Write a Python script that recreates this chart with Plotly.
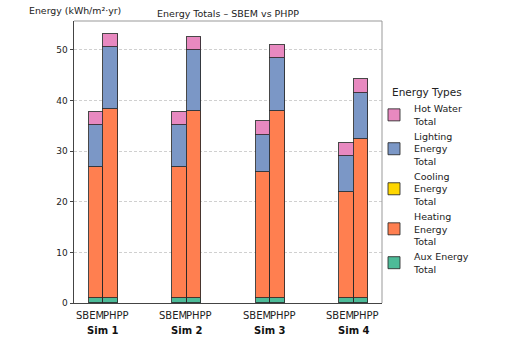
import plotly.graph_objects as go

sims = ["Sim 1", "Sim 2", "Sim 3", "Sim 4"]
methods = ["SBEM", "PHPP"]
energy_types = ["Aux Energy Total", "Heating Energy Total", "Cooling Energy Total",
                "Lighting Energy Total", "Hot Water Total"]
legend_labels = ["Aux Energy<br>Total", "Heating<br>Energy<br>Total", "Cooling<br>Energy<br>Total",
                 "Lighting<br>Energy<br>Total", "Hot Water<br>Total"]
colors = ["#4dbb98", "#ff7f50", "#ffd700", "#7b97c6", "#e889c0"]

# values per energy type: [Sim1, Sim2, Sim3, Sim4]
sbem_aux = [1.0, 1.0, 1.0, 1.0]
sbem_heating = [25.8, 25.8, 24.8, 21.0]
sbem_cooling = [0.0, 0.0, 0.0, 0.0]
sbem_lighting = [8.3, 8.3, 7.4, 7.0]
sbem_hotwater = [2.6, 2.6, 2.7, 2.6]

phpp_aux = [1.0, 1.0, 1.0, 1.0]
phpp_heating = [37.3, 36.9, 36.9, 31.3]
phpp_cooling = [0.0, 0.0, 0.0, 0.0]
phpp_lighting = [12.2, 12.1, 10.4, 9.1]
phpp_hotwater = [2.6, 2.6, 2.6, 2.8]

sbem = [sbem_aux, sbem_heating, sbem_cooling, sbem_lighting, sbem_hotwater]
phpp = [phpp_aux, phpp_heating, phpp_cooling, phpp_lighting, phpp_hotwater]

bar_w = 0.174
group_x = list(range(len(sims)))
sbem_x = [g - bar_w / 2 for g in group_x]
phpp_x = [g + bar_w / 2 for g in group_x]

fig = go.Figure()
edge = dict(color="rgba(40,40,40,0.85)", width=1)
for i, et in enumerate(energy_types):
    fig.add_trace(go.Bar(x=sbem_x, y=sbem[i], width=bar_w, name=legend_labels[i],
                         marker=dict(color=colors[i], line=edge), legendgroup=et,
                         showlegend=True))
    fig.add_trace(go.Bar(x=phpp_x, y=phpp[i], width=bar_w, name=legend_labels[i],
                         marker=dict(color=colors[i], line=edge), legendgroup=et,
                         showlegend=False))

font_family = "DejaVu Sans"
annotations = []
for g, s in zip(group_x, sims):
    annotations.append(dict(x=g, y=-0.046, xref="x", yref="paper", text="SBEM", showarrow=False,
                            xanchor="right", yanchor="middle", xshift=1.5, borderpad=0,
                            font=dict(size=10, color="#222")))
    annotations.append(dict(x=g, y=-0.046, xref="x", yref="paper", text="PHPP", showarrow=False,
                            xanchor="left", yanchor="middle", xshift=-1.5, borderpad=0,
                            font=dict(size=10, color="#222")))
    annotations.append(dict(x=g, y=-0.096, xref="x", yref="paper", text="<b>" + s + "</b>",
                            showarrow=False, xanchor="center", yanchor="middle",
                            font=dict(size=10, color="#111")))
annotations.append(dict(x=(27 - 74) / 308, y=1.039, xref="paper", yref="paper",
                        text="Energy (kWh/m²·yr)", showarrow=False, xanchor="left",
                        yanchor="middle", font=dict(size=9.4, color="#222")))
annotations.append(dict(x=(390 - 74) / 308, y=(303 - 92) / 282, xref="paper", yref="paper",
                        text="Energy Types", showarrow=False, xanchor="left",
                        yanchor="middle", font=dict(size=10.5, color="#222")))

fig.update_layout(
    width=508, height=340,
    margin=dict(l=74, r=126, t=21, b=37),
    barmode="stack",
    bargap=0,
    plot_bgcolor="white", paper_bgcolor="white",
    font=dict(family=font_family, size=10, color="#222"),
    title=dict(text="Energy Totals – SBEM vs PHPP", x=0.5, xref="paper", xanchor="center",
               y=1 - 14 / 340, yref="container", yanchor="middle",
               font=dict(size=9.5, color="#222")),
    xaxis=dict(range=[-0.35, 3.34], showticklabels=False, ticks="", showgrid=False,
               zeroline=False, showline=True, linecolor="#444", linewidth=1, mirror=False),
    yaxis=dict(range=[0, 55.7], tickvals=[0, 10, 20, 30, 40, 50], ticks="outside", ticklen=3.5,
               tickcolor="#444", showgrid=True, gridcolor="#d0d0d0", griddash="3px,2px",
               gridwidth=0.8, zeroline=False, showline=True, linecolor="#444", linewidth=1,
               tickfont=dict(size=9, color="#222")),
    legend=dict(x=(374 - 74) / 308, y=(303 - 96) / 282, xanchor="left", yanchor="top",
                traceorder="reversed",
                font=dict(size=9.5, color="#222"), itemwidth=30, tracegroupgap=4,
                bgcolor="rgba(0,0,0,0)"),
    annotations=annotations,
    shapes=[
        dict(type="line", xref="paper", yref="paper", x0=0, x1=1, y0=1, y1=1,
             line=dict(color="#999", width=1)),
        dict(type="line", xref="paper", yref="paper", x0=1, x1=1, y0=0, y1=1,
             line=dict(color="#999", width=1)),
    ],
)

fig.write_html("out.html")
